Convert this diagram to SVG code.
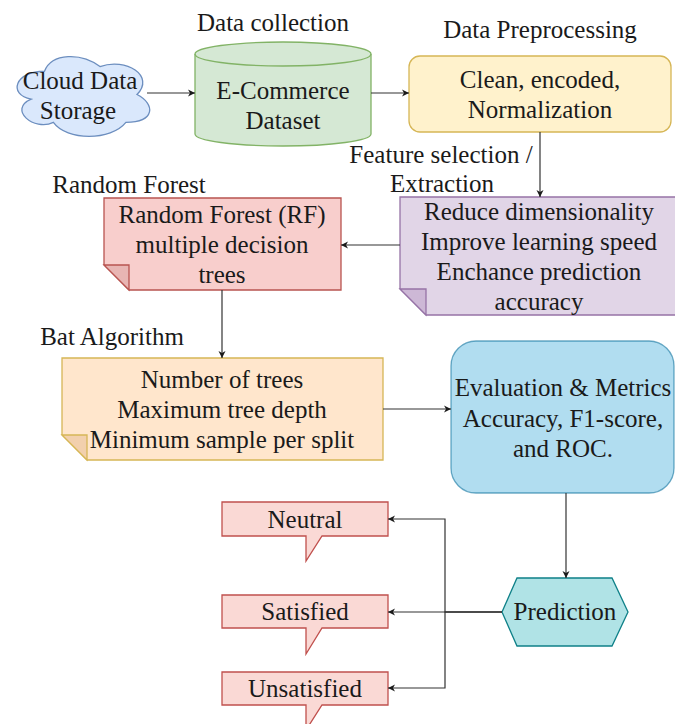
<svg xmlns="http://www.w3.org/2000/svg" width="675" height="724" viewBox="0 0 675 724">
<defs>
<marker id="arr" markerWidth="8" markerHeight="8" refX="7" refY="4" orient="auto" markerUnits="userSpaceOnUse">
<path d="M0,0.5 L7,4 L0,7.5 L2,4 Z" fill="#1a1a1a"/>
</marker>
<style>
text{font-family:"Liberation Serif","Times New Roman",serif;font-size:25px;fill:#1a1a1a;text-anchor:middle}
.edge{fill:none;stroke:#333;stroke-width:1.2;marker-end:url(#arr)}
.callout{fill:#fad9d5;stroke:#c0504d;stroke-width:1.3}
</style>
</defs>
<rect width="675" height="724" fill="#ffffff"/>

<g id="labels">
<text x="273" y="31">Data collection</text>
<text x="540" y="38">Data Preprocessing</text>
<text x="441" y="163">Feature selection /</text>
<text x="442" y="192">Extraction</text>
<text x="129" y="193">Random Forest</text>
<text x="112" y="345">Bat Algorithm</text>
</g>

<g id="cloud">
<path d="M44.5,71.25 C14.9,71.25 7.5,94.5 31.2,99.15 C7.5,109.4 34.1,131.7 53.4,122.4 C66.7,141 111.1,141 125.9,122.4 C155.5,122.4 155.5,103.8 137,94.5 C155.5,75.9 125.9,57.3 100,66.6 C81.5,52.65 51.9,52.65 44.5,71.25 Z" fill="#dae8fc" stroke="#6c8ebf" stroke-width="1.3"/>
<text x="80" y="89">Cloud Data</text>
<text x="78" y="119">Storage</text>
</g>

<g id="dataset">
<path d="M195,54 A88,12 0 0 1 371,54 L371,134 A88,12 0 0 1 195,134 Z" fill="#d5e8d4" stroke="#82b366" stroke-width="1.3"/>
<path d="M195,54 A88,12 0 0 0 371,54" fill="none" stroke="#82b366" stroke-width="1.3"/>
<text x="283" y="99">E-Commerce</text>
<text x="283" y="129">Dataset</text>
</g>

<g id="preprocessing">
<rect x="409" y="56" width="262" height="76" rx="11" fill="#fff2cc" stroke="#d6b656" stroke-width="1.3"/>
<text x="540" y="88">Clean, encoded,</text>
<text x="540" y="118">Normalization</text>
</g>

<g id="features">
<path d="M400,197 L676,197 L676,315 L426,315 L400,289 Z" fill="#e1d5e7" stroke="#9673a6" stroke-width="1.3"/>
<path d="M400,289 L426,289 L426,315 Z" fill="#cdb8d6" stroke="#9673a6" stroke-width="1.3"/>
<text x="539" y="220">Reduce dimensionality</text>
<text x="539" y="250">Improve learning speed</text>
<text x="539" y="280">Enchance prediction</text>
<text x="539" y="310">accuracy</text>
</g>

<g id="randomforest">
<path d="M104,198 L341,198 L341,290 L129,290 L104,265 Z" fill="#f8cecc" stroke="#b85450" stroke-width="1.3"/>
<path d="M104,265 L129,265 L129,290 Z" fill="#e8b5b3" stroke="#b85450" stroke-width="1.3"/>
<text x="222" y="223">Random Forest (RF)</text>
<text x="222" y="253">multiple decision</text>
<text x="222" y="283">trees</text>
</g>

<g id="bat">
<path d="M62,358 L383,358 L383,460 L87,460 L62,435 Z" fill="#ffe6cc" stroke="#d6b656" stroke-width="1.3"/>
<path d="M62,435 L87,435 L87,460 Z" fill="#f2d0ad" stroke="#d6b656" stroke-width="1.3"/>
<text x="222" y="388">Number of trees</text>
<text x="222" y="418">Maximum tree depth</text>
<text x="222" y="448">Minimum sample per split</text>
</g>

<g id="evaluation">
<rect x="451" y="341" width="223" height="152" rx="25" fill="#b1ddf0" stroke="#10739e" stroke-opacity="0.6" stroke-width="1.3"/>
<text x="563" y="396">Evaluation &amp; Metrics</text>
<text x="563" y="427">Accuracy, F1-score,</text>
<text x="563" y="457">and ROC.</text>
</g>

<g id="prediction">
<path d="M502,612 L517,578 L612,578 L628,612 L612,646 L517,646 Z" fill="#b0e3e6" stroke="#0e8088" stroke-width="1.3"/>
<text x="565" y="620">Prediction</text>
</g>

<g id="neutral">
<path class="callout" d="M222,502 L388,502 L388,536 L322,536 L306,561 L306,536 L222,536 Z"/>
<text x="305" y="528">Neutral</text>
</g>

<g id="satisfied">
<path class="callout" d="M222,595 L388,595 L388,628 L322,628 L306,654 L306,628 L222,628 Z"/>
<text x="305" y="620">Satisfied</text>
</g>

<g id="unsatisfied">
<path class="callout" d="M222,672 L388,672 L388,705 L322,705 L306,730 L306,705 L222,705 Z"/>
<text x="305" y="697">Unsatisfied</text>
</g>

<g id="connectors">
<path class="edge" d="M147,93 L195,93"/>
<path class="edge" d="M371,93 L409,93"/>
<path class="edge" d="M540,132 L540,197"/>
<path class="edge" d="M400,245 L341,245"/>
<path class="edge" d="M222,290 L222,358"/>
<path class="edge" d="M383,409 L451,409"/>
<path class="edge" d="M566,493 L566,578"/>
<path class="edge" d="M502,612 L388,612"/>
<path class="edge" d="M502,612 L445,612 L445,519 L388,519"/>
<path class="edge" d="M502,612 L445,612 L445,688 L388,688"/>
</g>
</svg>
